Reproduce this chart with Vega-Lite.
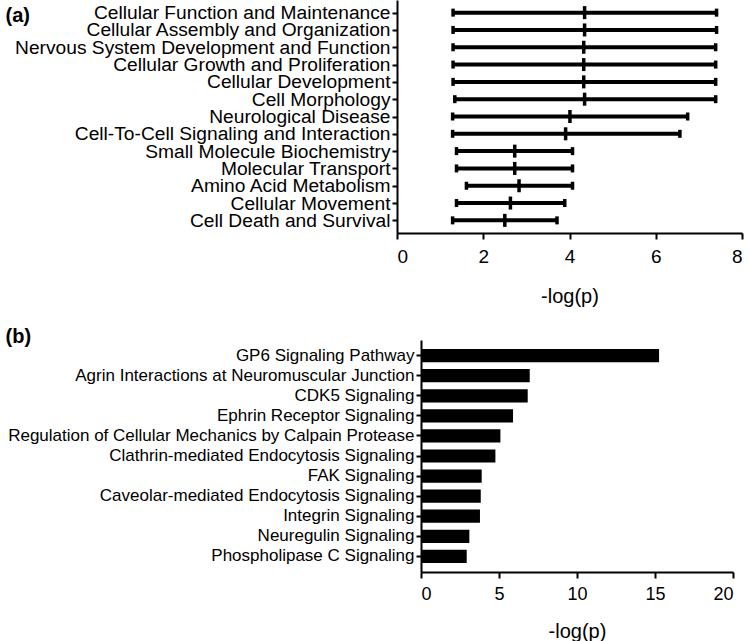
{
  "$schema": "https://vega.github.io/schema/vega-lite/v6.json",
  "padding": {"left": 5, "top": 0, "right": 0, "bottom": 0},
  "background": "white",
  "datasets": {
    "functions": [
      {"category": "Cellular Function and Maintenance", "lo": 1.30, "mid": 4.35, "hi": 7.41},
      {"category": "Cellular Assembly and Organization", "lo": 1.30, "mid": 4.35, "hi": 7.41},
      {"category": "Nervous System Development and Function", "lo": 1.30, "mid": 4.33, "hi": 7.39},
      {"category": "Cellular Growth and Proliferation", "lo": 1.30, "mid": 4.33, "hi": 7.39},
      {"category": "Cellular Development", "lo": 1.30, "mid": 4.33, "hi": 7.39},
      {"category": "Cell Morphology", "lo": 1.34, "mid": 4.35, "hi": 7.39},
      {"category": "Neurological Disease", "lo": 1.29, "mid": 4.01, "hi": 6.74},
      {"category": "Cell-To-Cell Signaling and Interaction", "lo": 1.29, "mid": 3.91, "hi": 6.56},
      {"category": "Small Molecule Biochemistry", "lo": 1.38, "mid": 2.73, "hi": 4.07},
      {"category": "Molecular Transport", "lo": 1.38, "mid": 2.73, "hi": 4.07},
      {"category": "Amino Acid Metabolism", "lo": 1.61, "mid": 2.83, "hi": 4.07},
      {"category": "Cellular Movement", "lo": 1.38, "mid": 2.63, "hi": 3.89},
      {"category": "Cell Death and Survival", "lo": 1.29, "mid": 2.50, "hi": 3.71}
    ],
    "pathways": [
      {"pathway": "GP6 Signaling Pathway", "value": 15.26},
      {"pathway": "Agrin Interactions at Neuromuscular Junction", "value": 6.97},
      {"pathway": "CDK5 Signaling", "value": 6.84},
      {"pathway": "Ephrin Receptor Signaling", "value": 5.90},
      {"pathway": "Regulation of Cellular Mechanics by Calpain Protease", "value": 5.09},
      {"pathway": "Clathrin-mediated Endocytosis Signaling", "value": 4.77},
      {"pathway": "FAK Signaling", "value": 3.89},
      {"pathway": "Caveolar-mediated Endocytosis Signaling", "value": 3.83},
      {"pathway": "Integrin Signaling", "value": 3.78},
      {"pathway": "Neuregulin Signaling", "value": 3.10},
      {"pathway": "Phospholipase C Signaling", "value": 2.93}
    ]
  },
  "config": {
    "view": {"stroke": null},
    "font": "Liberation Sans",
    "axis": {
      "grid": false,
      "domainColor": "black",
      "domainWidth": 2,
      "tickColor": "black",
      "tickWidth": 2,
      "labelColor": "black",
      "titleColor": "black",
      "labelFont": "Liberation Sans",
      "titleFont": "Liberation Sans",
      "titleFontWeight": "normal"
    }
  },
  "spacing": 20,
  "vconcat": [
    {
      "width": 321,
      "height": 233,
      "data": {"name": "functions"},
      "encoding": {
        "y": {
          "field": "category",
          "type": "nominal",
          "sort": null,
          "scale": {"type": "point", "padding": 0.73},
          "axis": {
            "title": "(a)",
            "offset": 24,
            "titleAngle": 0,
            "titleAlign": "left",
            "titleBaseline": "top",
            "titleX": -392,
            "titleY": 5,
            "titleFontSize": 20,
            "titleFontWeight": "bold",
            "labelFontSize": 19.2,
            "labelPadding": 2,
            "tickSize": 5,
            "labelLimit": 500
          }
        }
      },
      "layer": [
        {
          "mark": {"type": "rule", "color": "black", "strokeWidth": 4},
          "encoding": {
            "x": {
              "field": "lo",
              "type": "quantitative",
              "scale": {"domain": [0, 8], "nice": false, "range": [-24, 321]},
              "axis": {
                "title": "-log(p)",
                "values": [0, 2, 4, 6, 8],
                "labelFontSize": 19,
                "labelPadding": 8,
                "tickSize": 6,
                "titleFontSize": 20,
                "titlePadding": 20
              }
            },
            "x2": {"field": "hi"}
          }
        },
        {
          "mark": {"type": "tick", "color": "black", "size": 8, "thickness": 3.5, "opacity": 1},
          "encoding": {"x": {"field": "lo", "type": "quantitative"}}
        },
        {
          "mark": {"type": "tick", "color": "black", "size": 8, "thickness": 3.5, "opacity": 1},
          "encoding": {"x": {"field": "hi", "type": "quantitative"}}
        },
        {
          "mark": {"type": "tick", "color": "black", "size": 13, "thickness": 3.5, "opacity": 1},
          "encoding": {"x": {"field": "mid", "type": "quantitative"}}
        }
      ]
    },
    {
      "width": 312,
      "height": 232,
      "data": {"name": "pathways"},
      "mark": {"type": "bar", "color": "black"},
      "encoding": {
        "y": {
          "field": "pathway",
          "type": "nominal",
          "sort": null,
          "scale": {"paddingInner": 0.34, "paddingOuter": 0.45},
          "axis": {
            "title": "(b)",
            "titleAngle": 0,
            "titleAlign": "left",
            "titleBaseline": "top",
            "titleX": -416,
            "titleY": -14,
            "titleFontSize": 20,
            "titleFontWeight": "bold",
            "labelFontSize": 17,
            "labelPadding": 2,
            "tickSize": 5,
            "labelLimit": 500
          }
        },
        "x": {
          "field": "value",
          "type": "quantitative",
          "scale": {"domain": [0, 20], "nice": false},
          "axis": {
            "title": "-log(p)",
            "values": [0, 5, 10, 15, 20],
            "labelFontSize": 18,
            "labelPadding": 7,
            "tickSize": 6,
            "titleFontSize": 20,
            "titlePadding": 18
          }
        }
      }
    }
  ]
}
